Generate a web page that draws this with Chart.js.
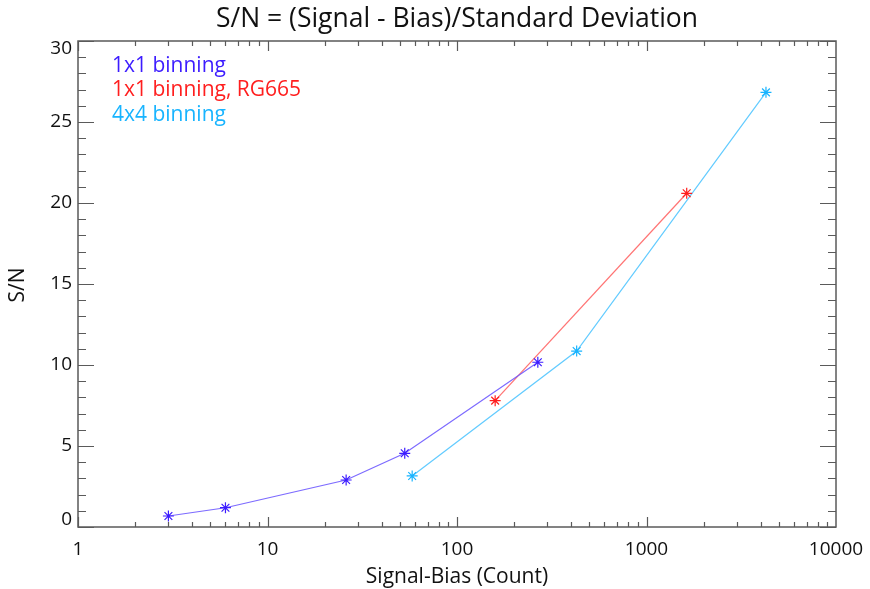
<!DOCTYPE html>
<html>
<head>
<meta charset="utf-8">
<script src="https://cdn.jsdelivr.net/npm/chart.js@4.4.1/dist/chart.umd.min.js"></script>
<style>
  html, body { margin: 0; padding: 0; background: #fff; }
  #wrap { width: 870px; height: 589px; }
</style>
</head>
<body>
<div id="wrap"><canvas id="chart"></canvas></div>
<script>
// chart data
const titleText = 'S/N = (Signal - Bias)/Standard Deviation';
const xTitle = 'Signal-Bias (Count)';
const yTitle = 'S/N';
const xTickLabels = [1, 10, 100, 1000, 10000];
const yTickLabels = [0, 5, 10, 15, 20, 25, 30];

const seriesNames = ['1x1 binning', '1x1 binning, RG665', '4x4 binning'];

const bin1x1X = [3.0, 6.0, 26, 53, 267];
const bin1x1Y = [0.68, 1.19, 2.9, 4.55, 10.17];

const rg665X = [159, 1630];
const rg665Y = [7.8, 20.6];

const bin4x4X = [58, 428, 4270];
const bin4x4Y = [3.15, 10.86, 26.83];

const FONT = '"Open Sans", "DejaVu Sans", sans-serif';

function toPoints(xs, ys) {
    return xs.map((x, i) => ({ x: x, y: ys[i] }));
}

function makeSeries(label, xs, ys, color, lineColor) {
    return {
        label: label,
        data: toPoints(xs, ys),
        showLine: true,
        borderColor: lineColor,
        backgroundColor: color,
        borderWidth: 1.2,
        pointStyle: 'star',
        pointRadius: 5.5,
        pointBorderColor: color,
        pointBorderWidth: 1.2,
        tension: 0
    };
}

// frame, inward ticks and all the text, drawn from the chart's scales
const axesPlugin = {
    id: 'idlAxes',
    beforeDatasetsDraw(chart) {
        const ctx = chart.ctx;
        const a = chart.chartArea;
        const xs = chart.scales.x;
        const ys = chart.scales.y;
        ctx.save();
        ctx.strokeStyle = '#5a5a5a';
        ctx.lineWidth = 1.5;
        ctx.strokeRect(a.left, a.top, a.right - a.left, a.bottom - a.top);

        ctx.lineWidth = 1.2;
        ctx.beginPath();
        // x ticks (log decades with minor ticks), bottom and top
        for (let d = 1; d < 10000; d *= 10) {
            for (let m = 1; m <= 9; m++) {
                const v = d * m;
                const px = Math.round(xs.getPixelForValue(v)) + 0.5;
                const len = m === 1 ? 10 : 5;
                ctx.moveTo(px, a.bottom); ctx.lineTo(px, a.bottom - len);
                ctx.moveTo(px, a.top); ctx.lineTo(px, a.top + len);
            }
        }
        // y ticks, left and right
        for (let v = 0; v <= 30; v++) {
            const py = Math.round(ys.getPixelForValue(v)) + 0.5;
            const len = v % 5 === 0 ? 16 : 8;
            ctx.moveTo(a.left, py); ctx.lineTo(a.left + len, py);
            ctx.moveTo(a.right, py); ctx.lineTo(a.right - len, py);
        }
        ctx.stroke();
        ctx.restore();
    },
    afterDraw(chart) {
        const ctx = chart.ctx;
        const a = chart.chartArea;
        const xs = chart.scales.x;
        const ys = chart.scales.y;
        ctx.save();
        ctx.fillStyle = '#111';

        // tick labels
        ctx.font = '19px ' + FONT;
        ctx.textAlign = 'center';
        ctx.textBaseline = 'middle';
        xTickLabels.forEach(v => {
            ctx.fillText(String(v), xs.getPixelForValue(v), a.bottom + 23);
        });
        ctx.textAlign = 'right';
        yTickLabels.forEach(v => {
            let py = ys.getPixelForValue(v);
            py = Math.min(Math.max(py, a.top + 8), a.bottom - 7);
            ctx.fillText(String(v), a.left - 6, py);
        });

        // axis titles
        ctx.textAlign = 'center';
        ctx.font = '21px ' + FONT;
        ctx.fillText(xTitle, (a.left + a.right) / 2, 577);
        ctx.save();
        ctx.translate(18, 285);
        ctx.rotate(-Math.PI / 2);
        ctx.fillText(yTitle, 0, 0);
        ctx.restore();

        // title
        ctx.font = '26.5px ' + FONT;
        ctx.fillText(titleText, (a.left + a.right) / 2, 19);

        // legend as coloured text
        ctx.textAlign = 'left';
        ctx.font = '21px ' + FONT;
        chart.data.datasets.forEach((ds, i) => {
            ctx.fillStyle = ds.pointBorderColor;
            ctx.fillText(ds.label, 112, 66 + i * 24.5);
        });
        ctx.restore();
    }
};

const ctx = document.getElementById('chart').getContext('2d');
new Chart(ctx, {
    type: 'scatter',
    data: {
        datasets: [
            makeSeries(seriesNames[0], bin1x1X, bin1x1Y, '#3c1cff', 'rgba(110,90,255,0.9)'),
            makeSeries(seriesNames[1], rg665X, rg665Y, '#ff1e1e', 'rgba(255,100,100,0.9)'),
            makeSeries(seriesNames[2], bin4x4X, bin4x4Y, '#18b4ff', 'rgba(90,200,255,0.95)')
        ]
    },
    options: {
        responsive: true,
        maintainAspectRatio: false,
        animation: false,
        layout: {
            padding: { left: 78, right: 34, top: 41, bottom: 62 }
        },
        scales: {
            x: { type: 'logarithmic', min: 1, max: 10000, display: false },
            y: { type: 'linear', min: 0, max: 30, display: false }
        },
        plugins: {
            legend: { display: false },
            tooltip: { enabled: false },
            title: { display: false }
        }
    },
    plugins: [axesPlugin]
});
</script>
</body>
</html>
